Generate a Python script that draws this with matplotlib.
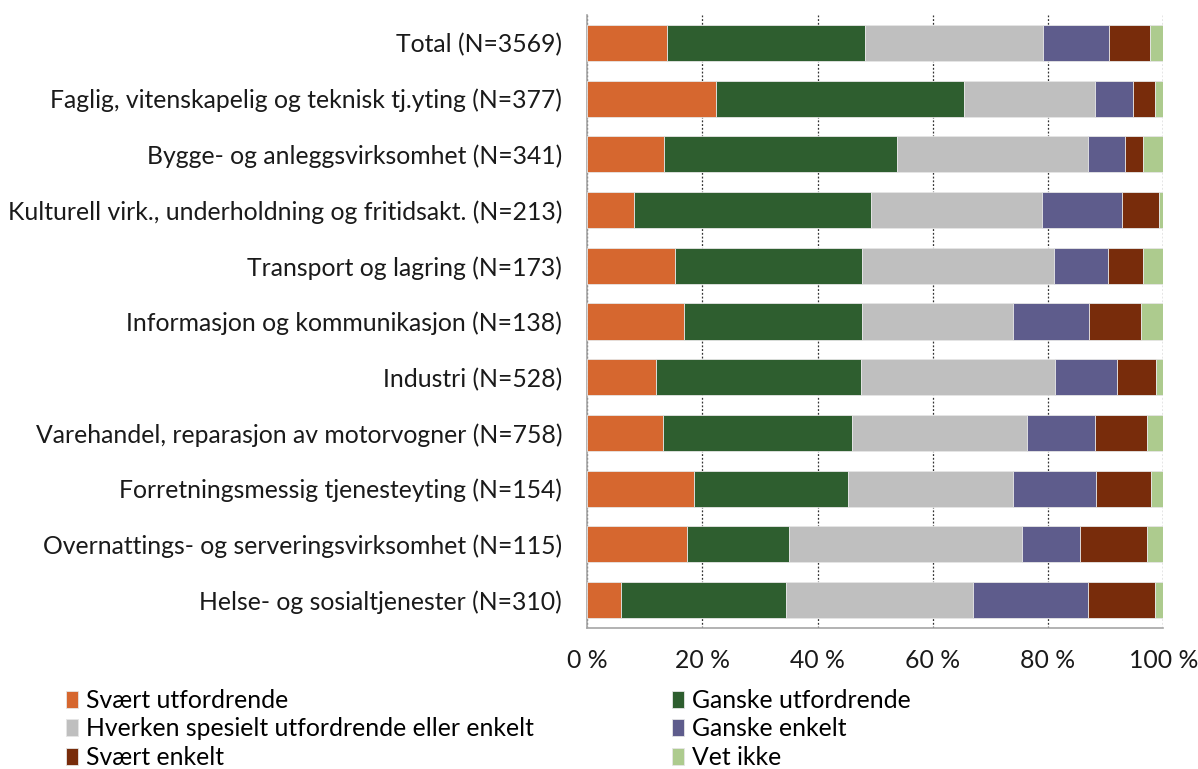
import numpy as np
import matplotlib
matplotlib.use("Agg")
import matplotlib.pyplot as plt
from matplotlib.ticker import FixedLocator

plt.rcParams['font.family'] = ['Lato', 'DejaVu Sans']

# ------------------------------------------------------------
# Data (percent shares per category)
# ------------------------------------------------------------
categories = [
    "Total (N=3569)",
    "Faglig, vitenskapelig og teknisk tj.yting (N=377)",
    "Bygge- og anleggsvirksomhet (N=341)",
    "Kulturell virk., underholdning og fritidsakt. (N=213)",
    "Transport og lagring (N=173)",
    "Informasjon og kommunikasjon (N=138)",
    "Industri (N=528)",
    "Varehandel, reparasjon av motorvogner (N=758)",
    "Forretningsmessig tjenesteyting (N=154)",
    "Overnattings- og serveringsvirksomhet (N=115)",
    "Helse- og sosialtjenester (N=310)",
]

series_names = [
    "Svært utfordrende",
    "Ganske utfordrende",
    "Hverken spesielt utfordrende eller enkelt",
    "Ganske enkelt",
    "Svært enkelt",
    "Vet ikke",
]

svaert_utfordrende = [13.9, 22.3, 13.4, 8.1, 15.2, 16.8, 11.9, 13.2, 18.6, 17.4, 5.9]
ganske_utfordrende = [34.3, 43.1, 40.4, 41.2, 32.6, 31.0, 35.6, 32.7, 26.7, 17.6, 28.7]
hverken = [31.0, 22.7, 33.2, 29.6, 33.2, 26.1, 33.7, 30.4, 28.6, 40.4, 32.3]
ganske_enkelt = [11.4, 6.7, 6.4, 13.9, 9.4, 13.3, 10.7, 11.8, 14.4, 10.2, 20.1]
svaert_enkelt = [7.1, 3.8, 3.1, 6.4, 6.0, 8.9, 6.9, 9.1, 9.6, 11.6, 11.6]
vet_ikke = [2.3, 1.4, 3.5, 0.8, 3.6, 3.9, 1.2, 2.8, 2.1, 2.8, 1.4]

xticks = [0, 20, 40, 60, 80, 100]
xtick_labels = ["0 %", "20 %", "40 %", "60 %", "80 %", "100 %"]

colors = ["#D6672F", "#2E5E2F", "#BFBFBF", "#5E5C8C", "#782C0B", "#ADCB8E"]
FS = 17.8

# ------------------------------------------------------------
# Plot
# ------------------------------------------------------------
fig = plt.figure(figsize=(11.98, 7.69), dpi=100)
ax = fig.add_axes([0.49, 0.1834, 0.481, 0.797])

data = [svaert_utfordrende, ganske_utfordrende, hverken,
        ganske_enkelt, svaert_enkelt, vet_ikke]
y = np.arange(len(categories))
left = np.zeros(len(categories))
handles = []
for name, vals, col in zip(series_names, data, colors):
    vals = np.array(vals)
    h = ax.barh(y, vals, left=left, height=0.65, color=col, label=name,
                edgecolor="#E6E6E6", linewidth=0.6, zorder=3)
    handles.append(h)
    left += vals

ax.set_ylim(len(categories) - 0.5, -0.5)
ax.set_xlim(0, 100)
ax.set_yticks(y)
ax.set_yticklabels(categories, fontsize=FS, color="#1a1a1a")
ax.xaxis.set_major_locator(FixedLocator(xticks))
ax.set_xticklabels(xtick_labels, fontsize=FS, color="#1a1a1a")
ax.tick_params(axis="both", length=0)
ax.tick_params(axis="y", pad=18)
ax.tick_params(axis="x", pad=15)

ax.grid(axis="x", linestyle=(0, (1.5, 1.5)), color="#333333", linewidth=0.9, zorder=0)
for s in ["top", "right"]:
    ax.spines[s].set_visible(False)
for s in ["left", "bottom"]:
    ax.spines[s].set_color("#A6A6A6")
    ax.spines[s].set_linewidth(1.2)

# legend: two separate columns, read row-wise
leg_kw = dict(loc="upper left", frameon=False, fontsize=FS, handlelength=0.5,
              handleheight=0.7, handletextpad=0.3, labelspacing=0.22,
              borderaxespad=0, borderpad=0)
leg1 = fig.legend([handles[i] for i in (0, 2, 4)], [series_names[i] for i in (0, 2, 4)],
                  bbox_to_anchor=(0.055, 0.104), **leg_kw)
leg2 = fig.legend([handles[i] for i in (1, 3, 5)], [series_names[i] for i in (1, 3, 5)],
                  bbox_to_anchor=(0.561, 0.104), **leg_kw)

plt.savefig("out.png", dpi=100)
